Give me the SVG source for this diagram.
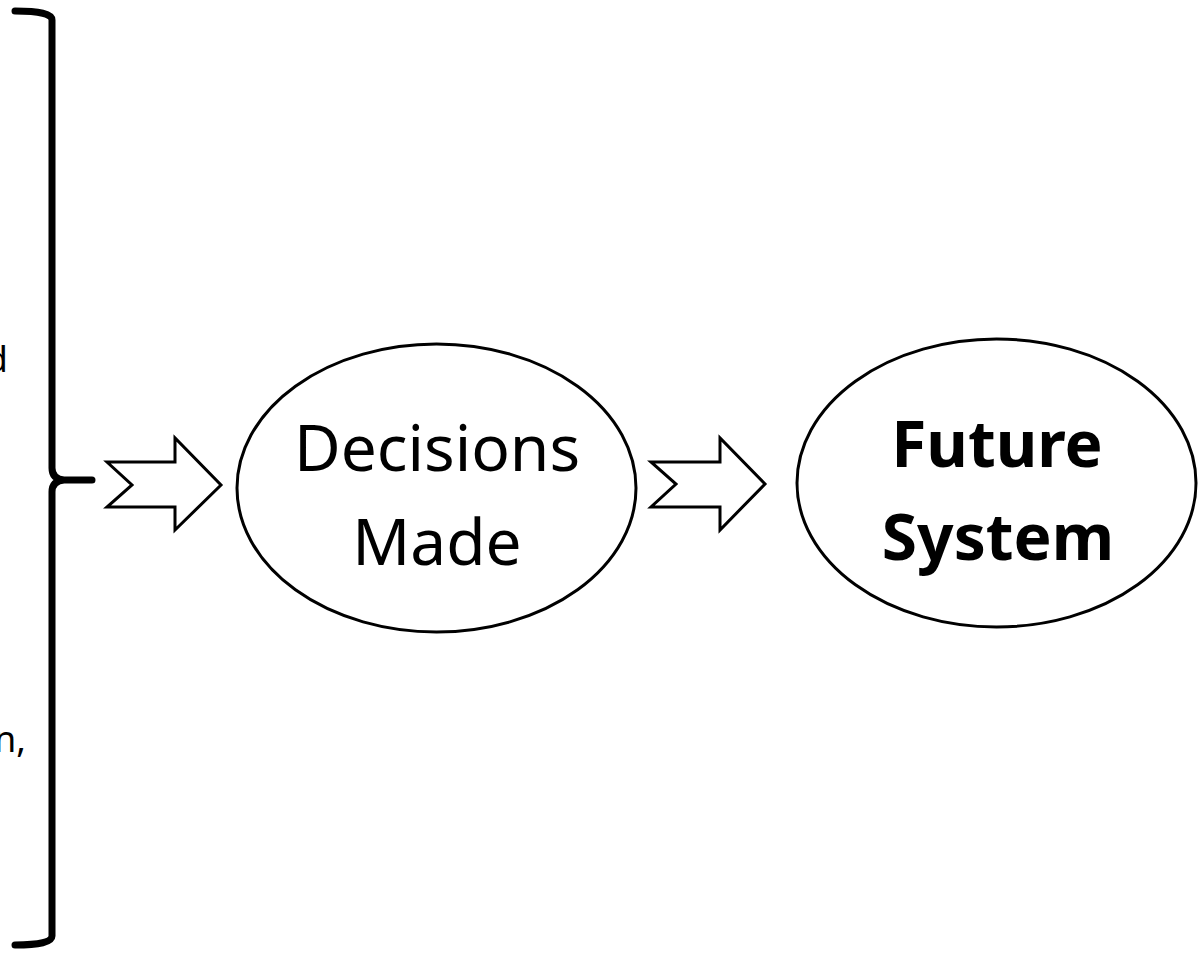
<svg xmlns="http://www.w3.org/2000/svg" width="1202" height="953" viewBox="0 0 1202 953">
<style>
.shape{fill:#fff;stroke:#000;stroke-width:3}
.brace{fill:none;stroke:#000;stroke-width:7;stroke-linecap:round;stroke-linejoin:round}
.t{font-family:"Noto Sans","Open Sans",sans-serif;font-size:64px;text-anchor:middle;fill:#000}
.b{font-weight:bold}
.side{font-family:"Noto Sans","Open Sans",sans-serif;font-size:36px;text-anchor:end;fill:#000}
</style>
<rect width="1202" height="953" fill="#fff"/>
<g id="brace">
<path class="brace" d="M15,11 Q52,11 52,20 L52,468 Q52,479 64,480 L92,480 M64,480 Q52,481 52,492 L52,936 Q52,945 15,945"/>
<text class="side" x="8" y="372">d</text>
<text class="side" x="26" y="752">n,</text>
</g>
<g id="connectors">
<polygon class="shape" points="107,462 175,462 175,438 221,485 175,530 175,507 107,507 132,485"/>
<polygon class="shape" points="651,462 720,462 720,438 765,484 720,530 720,507 651,507 676,484"/>
</g>
<g id="decisions">
<ellipse class="shape" cx="436.5" cy="488" rx="199.5" ry="144"/>
<text class="t" x="437" y="471">Decisions</text>
<text class="t" x="437" y="565">Made</text>
</g>
<g id="future">
<ellipse class="shape" cx="996.5" cy="483" rx="199.5" ry="144"/>
<text class="t b" x="997" y="467">Future</text>
<text class="t b" x="998" y="560">System</text>
</g>
</svg>
